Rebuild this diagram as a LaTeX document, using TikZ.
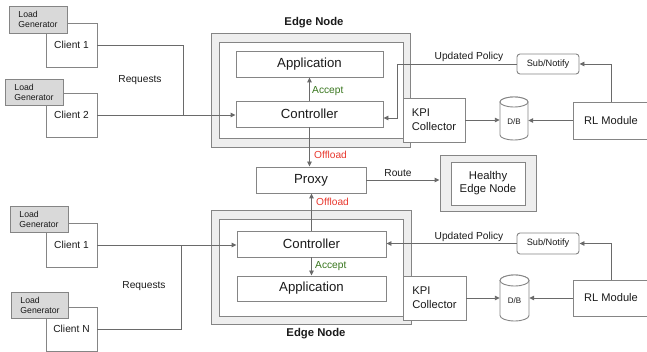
\documentclass[tikz,border=0pt]{standalone}
\usepackage{fontspec}
\setmainfont{Liberation Sans}
\usetikzlibrary{arrows.meta,calc}
\definecolor{bord}{HTML}{858585}
\definecolor{wirec}{HTML}{6A6A6A}
\definecolor{txt}{HTML}{1A1A1A}
\definecolor{lgfill}{HTML}{D9D9D9}
\definecolor{enfill}{HTML}{EEEEEE}
\definecolor{acc}{HTML}{38761D}
\definecolor{off}{HTML}{E8382E}
\newcommand\fsz[2]{\fontsize{#1}{#2}\selectfont}
\begin{document}
\begin{tikzpicture}[x=1pt,y=-1pt,
  box/.style={draw=bord, line width=0.9pt, fill=white, inner sep=0pt, text=txt},
  lgbox/.style={box, fill=lgfill, align=left, font=\fsz{8.7}{10}},
  clbox/.style={box, font=\fsz{10.2}{12}},
  bigbox/.style={box, font=\fsz{13.2}{15}},
  midbox/.style={box, font=\fsz{11.2}{14}, align=left},
  snbox/.style={box, rounded corners=3pt, font=\fsz{9.2}{11}},
  enouter/.style={draw=bord, line width=0.9pt, fill=enfill, inner sep=0pt},
  cyl/.style={draw=bord, line width=0.9pt, fill=white},
  wire/.style={draw=wirec, line width=0.9pt},
  arr/.style={wire, -{Triangle[length=5pt,width=4.5pt]}},
  lbl/.style={text=txt, font=\fsz{10.2}{12}, inner sep=0pt},
  acclbl/.style={text=acc, font=\fsz{10.2}{12}, inner sep=0pt, anchor=west},
  offlbl/.style={text=off, font=\fsz{10.2}{12}, inner sep=0pt, anchor=west},
  enlbl/.style={text=txt, font=\fsz{11.3}{13}\bfseries, inner sep=0pt},
]
\useasboundingbox (0,0) rectangle (647,352);

% ---------- top clients ----------
\node[clbox, minimum width=51, minimum height=44] (c1) at (71.5,45) {Client 1};
\node[lgbox, minimum width=58, minimum height=27] (lg1) at (38,19.5) {Load\\Generator};
\node[clbox, minimum width=51, minimum height=44] (c2) at (71.5,115) {Client 2};
\node[lgbox, minimum width=58, minimum height=26] (lg2) at (34,92) {Load\\Generator};
\node[lbl] (req1) at (140,80) {Requests};

% ---------- top edge node ----------
\node[enouter, minimum width=199, minimum height=114] (en1o) at (310.5,90) {};
\node[box, minimum width=184, minimum height=96] (en1i) at (311,90) {};
\node[enlbl] (en1l) at (314,23) {Edge Node};
\node[bigbox, minimum width=147, minimum height=26] (app1) at (309.5,64) {Application};
\node[bigbox, minimum width=147, minimum height=26] (ctl1) at (309.5,114) {Controller};
\node[midbox, minimum width=62, minimum height=44] (kpi1) at (434,120) {KPI\\Collector};

% D/B top
\node[inner sep=0pt, minimum width=28, minimum height=43] (db1) at (514,118.5) {};
\path[cyl] (500,102) -- (500,135) arc[start angle=180, end angle=0, x radius=14, y radius=5] -- (528,102) arc[start angle=0, end angle=-180, x radius=14, y radius=5] -- cycle;
\path[cyl] (514,102) ellipse [x radius=14, y radius=5];
\node[text=txt, font=\fsz{8}{10}, inner sep=0pt] (db1t) at (514,122) {D/B};

\node[snbox, minimum width=62, minimum height=20] (sn1) at (548,64) {Sub/Notify};
\node[box, font=\fsz{11.1}{13}, minimum width=76, minimum height=37] (rl1) at (611,120.5) {RL Module};

% ---------- proxy & healthy ----------
\node[bigbox, minimum width=110, minimum height=26] (proxy) at (311,180) {Proxy};
\node[enouter, minimum width=96, minimum height=56] (heo) at (488,183) {};
\node[box, font=\fsz{11.3}{13}, align=center, minimum width=74, minimum height=43] (hei) at (488,183.5) {Healthy\\Edge Node};

% ---------- bottom edge node ----------
\node[enouter, minimum width=200, minimum height=114] (en2o) at (311,267) {};
\node[box, minimum width=184, minimum height=97] (en2i) at (311,267.5) {};
\node[enlbl] (en2l) at (316,334) {Edge Node};
\node[bigbox, minimum width=149, minimum height=26] (ctl2) at (311.5,244) {Controller};
\node[bigbox, minimum width=149, minimum height=25] (app2) at (311.5,288.5) {Application};
\node[midbox, minimum width=63, minimum height=44] (kpi2) at (434.5,298) {KPI\\Collector};

% D/B bottom
\node[inner sep=0pt, minimum width=29, minimum height=46] (db2) at (514.5,298) {};
\path[cyl] (500,280.5) -- (500,315.5) arc[start angle=180, end angle=0, x radius=14.5, y radius=5.5] -- (529,280.5) arc[start angle=0, end angle=-180, x radius=14.5, y radius=5.5] -- cycle;
\path[cyl] (514.5,280.5) ellipse [x radius=14.5, y radius=5.5];
\node[text=txt, font=\fsz{8}{10}, inner sep=0pt] (db2t) at (514.5,301) {D/B};

\node[snbox, minimum width=62, minimum height=21] (sn2) at (548,243.5) {Sub/Notify};
\node[box, font=\fsz{11.1}{13}, minimum width=76, minimum height=36] (rl2) at (611,298) {RL Module};

% ---------- bottom clients ----------
\node[clbox, minimum width=51, minimum height=44] (c3) at (71.5,245) {Client 1};
\node[lgbox, minimum width=58, minimum height=26] (lg3) at (39,219) {Load\\Generator};
\node[clbox, minimum width=51, minimum height=44] (c4) at (71.5,329) {Client N};
\node[lgbox, minimum width=57, minimum height=26] (lg4) at (40,305) {Load\\Generator};
\node[lbl] (req2) at (144,286) {Requests};

% ---------- connectors top ----------
\coordinate (j1) at (183,115);
\draw[wire] (c1.east) -| (j1);
\draw[arr] (c2.east) -- (c2.east -| ctl1.west);
\draw[arr] (ctl1.north) -- (app1.south);
\node[acclbl] (acc1) at (312,91) {Accept};
\coordinate (up1) at (397,118);
\draw[arr] (sn1.west) -| (up1) -- (up1 -| ctl1.east);
\node[lbl] (upl1) at (469,57) {Updated Policy};
\draw[arr] (rl1.north) |- (sn1.east);
\draw[arr] (kpi1.east) -- (kpi1.east -| db1.west);
\draw[arr] (rl1.west) -- (rl1.west -| db1.east);

% ---------- connectors middle ----------
\draw[arr] (ctl1.south) -- (ctl1.south |- proxy.north);
\node[offlbl] (off1) at (314,155) {Offload};
\draw[arr] (ctl2.north) -- (ctl2.north |- proxy.south);
\node[offlbl] (off2) at (316,202) {Offload};
\draw[arr] (proxy.east) -- (proxy.east -| heo.west);
\node[lbl] (route) at (398,173) {Route};

% ---------- connectors bottom ----------
\coordinate (j2) at (181,245);
\draw[wire] (c4.east) -| (j2);
\draw[arr] (c3.east) -- (c3.east -| ctl2.west);
\draw[arr] (ctl2.south) -- (app2.north);
\node[acclbl] (acc2) at (315,266) {Accept};
\draw[arr] (sn2.west) -- (sn2.west -| ctl2.east);
\node[lbl] (upl2) at (469,237) {Updated Policy};
\draw[arr] (rl2.north) |- (sn2.east);
\draw[arr] (kpi2.east) -- (kpi2.east -| db2.west);
\draw[arr] (rl2.west) -- (rl2.west -| db2.east);
\end{tikzpicture}
\end{document}
